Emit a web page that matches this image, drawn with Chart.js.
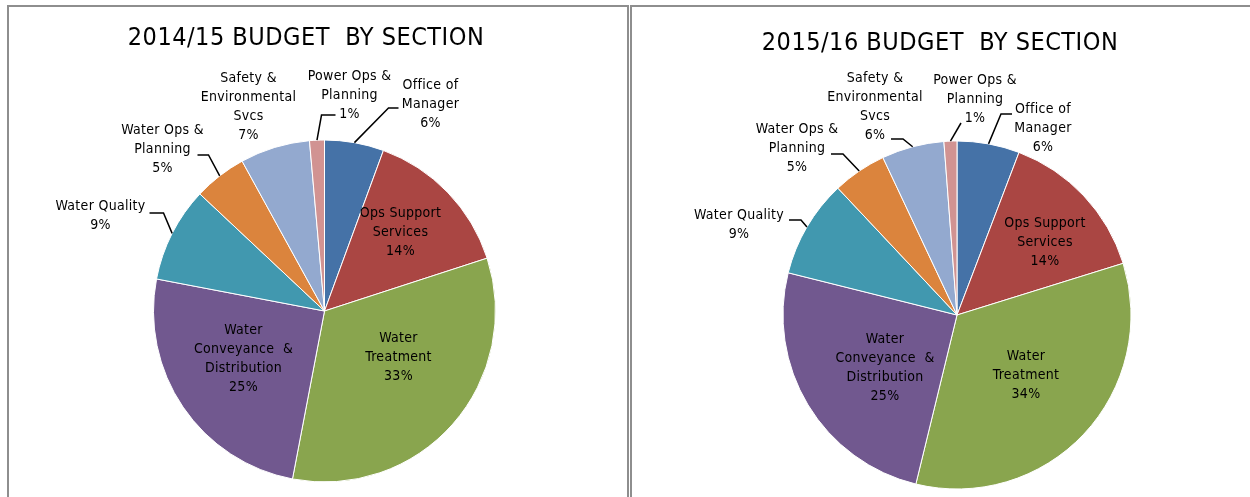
<!DOCTYPE html>
<html><head><meta charset="utf-8">
<script src="https://cdn.jsdelivr.net/npm/chart.js@4/dist/chart.umd.min.js"></script>
<style>
html,body{margin:0;padding:0;background:#fff;overflow:hidden;width:1250px;height:497px;}
.panel{position:absolute;top:5px;border:2px solid #8e8e8e;border-bottom:none;box-sizing:border-box;height:492px;background:#fff;overflow:hidden;}
#p1{left:7px;width:622px;}
#p2{left:630px;width:700px;border-right:none;}
canvas{display:block;}
</style>
</head><body>
<div class="panel" id="p1"><canvas id="c1" width="618" height="490"></canvas></div>
<div class="panel" id="p2"><canvas id="c2" width="640" height="490"></canvas></div>
<script>
// ---- data ----
const categories = [
  ['Office of','Manager'],
  ['Ops Support','Services'],
  ['Water','Treatment'],
  ['Water','Conveyance  &','Distribution'],
  ['Water Quality'],
  ['Water Ops &','Planning'],
  ['Safety &','Environmental','Svcs'],
  ['Power Ops &','Planning']
];
const budget1415 = [5.6, 14.4, 33.0, 25.0, 9.0, 5.0, 6.6, 1.4];
const budget1516 = [5.8, 14.4, 33.6, 25.1, 9.1, 5.0, 5.8, 1.2];
const titles = ['2014/15 BUDGET  BY SECTION', '2015/16 BUDGET  BY SECTION'];

// ---- style ----
const sliceColors = ['#4572A7','#AA4643','#89A54E','#71588F','#4198AF','#DB843D','#93A9CF','#D19392'];
const FONT = "'Liberation Sans Narrow','DejaVu Sans Condensed','Arial Narrow',sans-serif";

// label placement (px offsets from pie centre); leader: [elbow, end]
const labelLayout1415 = [
  {dx:106, dy:-207, leader:[[64,-203],[74,-203]]},
  {dx:76, dy:-79},
  {dx:74, dy:46},
  {dx:-81, dy:48},
  {dx:-224, dy:-95, leader:[[-161,-98],[-175,-98]]},
  {dx:-162, dy:-161.5, leader:[[-116,-156],[-127,-156]]},
  {dx:-76, dy:-204},
  {dx:25, dy:-216, leader:[[-3,-196],[11,-196]]}
];
const labelLayout1516 = [
  {dx:86, dy:-187, leader:[[44,-201],[55,-201]]},
  {dx:88, dy:-73},
  {dx:69, dy:60.5},
  {dx:-72, dy:52.5},
  {dx:-218, dy:-90.5, leader:[[-156,-95],[-168,-95]]},
  {dx:-160, dy:-167, leader:[[-114,-161],[-126,-161]]},
  {dx:-82, dy:-208, leader:[[-54,-176],[-66,-176]]},
  {dx:18, dy:-215.5, leader:[[4,-192],[4,-192]]}
];

const pieLabels = {
  id:'pieLabels',
  afterDraw(chart, args, opts){
    const ctx = chart.ctx;
    ctx.save();
    // title
    ctx.fillStyle = '#000';
    ctx.font = '25px ' + FONT;
    ctx.letterSpacing = '0.5px';
    ctx.textAlign = 'center';
    ctx.textBaseline = 'middle';
    ctx.fillText(opts.title, opts.titleX, opts.titleY);
    const meta = chart.getDatasetMeta(0);
    const ds = chart.data.datasets[0];
    const total = ds.data.reduce((a,b)=>a+b,0);
    ctx.font = '14px ' + FONT;
    ctx.letterSpacing = '0.3px';
    meta.data.forEach((arc,i)=>{
      const p = arc.getProps(['x','y','startAngle','endAngle','outerRadius'], true);
      const L = opts.layout[i];
      const lines = chart.data.labels[i].concat([Math.round(ds.data[i]/total*100)+'%']);
      if (L.leader){
        const mid = (p.startAngle+p.endAngle)/2;
        ctx.beginPath();
        ctx.moveTo(p.x + p.outerRadius*Math.cos(mid), p.y + p.outerRadius*Math.sin(mid));
        L.leader.forEach(q=>ctx.lineTo(p.x+q[0], p.y+q[1]));
        ctx.strokeStyle = '#000';
        ctx.lineWidth = 1.5;
        ctx.stroke();
      }
      const lh = 19;
      lines.forEach((t,k)=>{
        ctx.fillText(t, p.x+L.dx, p.y+L.dy+(k-(lines.length-1)/2)*lh);
      });
    });
    ctx.restore();
  }
};

function makePie(id, values, layout, title, tx, ty, pad){
  return new Chart(document.getElementById(id), {
    type:'pie',
    data:{labels:categories, datasets:[{data:values, backgroundColor:sliceColors, borderColor:'#ffffff', borderWidth:1}]},
    options:{
      responsive:false, animation:false,
      layout:{padding:pad},
      plugins:{legend:{display:false}, title:{display:false}, tooltip:{enabled:false},
        pieLabels:{layout:layout, title:title, titleX:tx, titleY:ty}}
    },
    plugins:[pieLabels]
  });
}
makePie('c1', budget1415, labelLayout1415, titles[0], 297, 31, {left:13, right:0, top:132.5, bottom:14.5});
makePie('c2', budget1516, labelLayout1516, titles[1], 308, 36, {left:10, right:0, top:133.5, bottom:7.5});
</script>
</body></html>
